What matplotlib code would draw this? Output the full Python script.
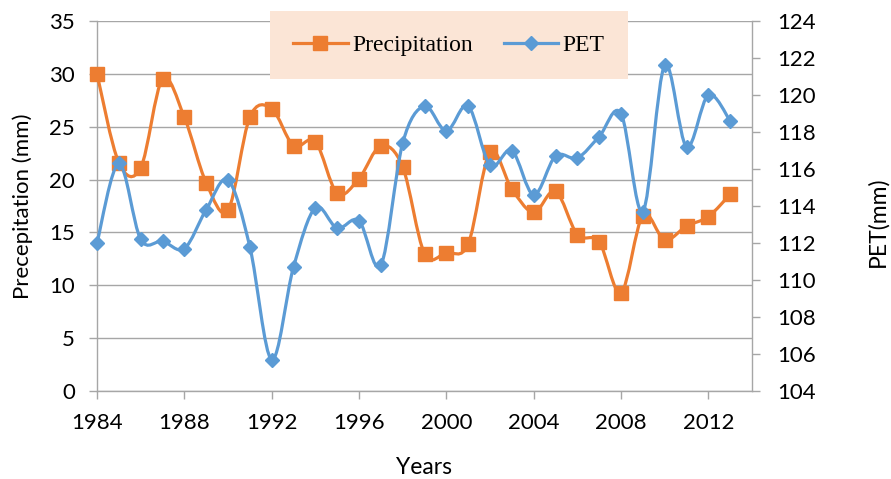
"""
plot.py - Precipitation and PET, 1984-2013
"""
import matplotlib
matplotlib.use("Agg")
import matplotlib.pyplot as plt
from matplotlib.path import Path
from matplotlib.patches import PathPatch
from matplotlib.lines import Line2D

YEARS = list(range(1984, 2014))
PRECIP = [30.0, 21.6, 21.1, 29.5, 25.9, 19.7, 17.1, 25.9, 26.7, 23.2,
          23.6, 18.7, 20.1, 23.2, 21.2, 13.0, 13.1, 13.9, 22.6, 19.1,
          16.9, 18.9, 14.8, 14.1, 9.3, 16.6, 14.3, 15.6, 16.5, 18.6]
PET = [112.0, 116.3, 112.2, 112.1, 111.7, 113.8, 115.4, 111.8, 105.7, 110.7,
       113.9, 112.8, 113.2, 110.8, 117.4, 119.4, 118.05, 119.4, 116.2, 117.0,
       114.6, 116.7, 116.6, 117.75, 119.0, 113.7, 121.6, 117.2, 120.0, 118.6]

ORANGE = "#ED7D31"
BLUE = "#5B9BD5"
GRID = "#A6A6A6"

plt.rcParams["font.family"] = ["Lato", "DejaVu Sans"]


def smooth_path(xs, ys):
    # Excel style smoothed line: Catmull-Rom as cubic Bezier segments
    pts = list(zip(xs, ys))
    verts = [pts[0]]
    codes = [Path.MOVETO]
    n = len(pts)
    for i in range(n - 1):
        p0 = pts[i - 1] if i > 0 else pts[i]
        p1 = pts[i]
        p2 = pts[i + 1]
        p3 = pts[i + 2] if i + 2 < n else pts[i + 1]
        c1 = (p1[0] + (p2[0] - p0[0]) / 6, p1[1] + (p2[1] - p0[1]) / 6)
        c2 = (p2[0] - (p3[0] - p1[0]) / 6, p2[1] - (p3[1] - p1[1]) / 6)
        verts += [c1, c2, p2]
        codes += [Path.CURVE4] * 3
    return Path(verts, codes)


fig = plt.figure(figsize=(8.91, 4.79), dpi=100)
ax = fig.add_axes([97 / 891, 88 / 479, 655 / 891, 370 / 479])
ax2 = ax.twinx()

# precipitation on left axis
ax.add_patch(PathPatch(smooth_path(YEARS, PRECIP), fill=False, edgecolor=ORANGE,
                       linewidth=2.3, zorder=3, clip_on=False))
ax.plot(YEARS, PRECIP, linestyle="none", marker="s", markersize=9.5,
        color=ORANGE, zorder=4, clip_on=False)

# PET on right axis
ax2.add_patch(PathPatch(smooth_path(YEARS, PET), fill=False, edgecolor=BLUE,
                        linewidth=2.3, zorder=3, clip_on=False))
ax2.plot(YEARS, PET, linestyle="none", marker="D", markersize=7.5,
         color=BLUE, zorder=4, clip_on=False)

ax.set_xlim(1984, 2014)
ax.set_ylim(0, 35)
ax2.set_ylim(104, 124)
ax.set_xticks(range(1984, 2013, 4))
ax.set_yticks(range(0, 36, 5))
ax2.set_yticks(range(104, 125, 2))

ax.grid(axis="y", color=GRID, linewidth=1)
ax.set_axisbelow(True)

for a in (ax, ax2):
    for s in a.spines.values():
        s.set_visible(False)
ax.spines["left"].set_visible(True)
ax.spines["bottom"].set_visible(True)
ax2.spines["right"].set_visible(True)
for s in (ax.spines["left"], ax.spines["bottom"], ax2.spines["right"]):
    s.set_color(GRID)
    s.set_linewidth(1)

ax.tick_params(axis="both", labelsize=16, color=GRID, length=6, width=1)
ax.tick_params(axis="y", pad=10)
ax.tick_params(axis="x", pad=10)
ax2.tick_params(axis="y", labelsize=16, color=GRID, length=6, width=1, pad=12)

fig.text(23 / 891, 1 - 206 / 479, "Precepitation (mm)", rotation=90,
         ha="center", va="center", fontsize=16)
fig.text(878 / 891, 1 - 222 / 479, "PET(mm)", rotation=90,
         ha="center", va="center", fontsize=16.5)
fig.text(424 / 891, 1 - 467 / 479, "Years", ha="center", va="center", fontsize=16.5)

handles = [
    Line2D([], [], color=ORANGE, linewidth=2.3, marker="s", markersize=9.5),
    Line2D([], [], color=BLUE, linewidth=2.3, marker="D", markersize=7.5),
]
leg = ax2.legend(handles, ["Precipitation", "PET"], ncol=2, loc="center",
                 bbox_to_anchor=(449 / 891, 1 - 45 / 479),
                 bbox_transform=fig.transFigure,
                 prop={"family": "Liberation Serif", "size": 17},
                 frameon=True, fancybox=False, facecolor="#FBE5D6",
                 edgecolor="none", framealpha=1, borderpad=1.0,
                 handlelength=2.3, handletextpad=0.2, columnspacing=1.3)
leg.set_zorder(10)

fig.savefig("out.png", dpi=100)
